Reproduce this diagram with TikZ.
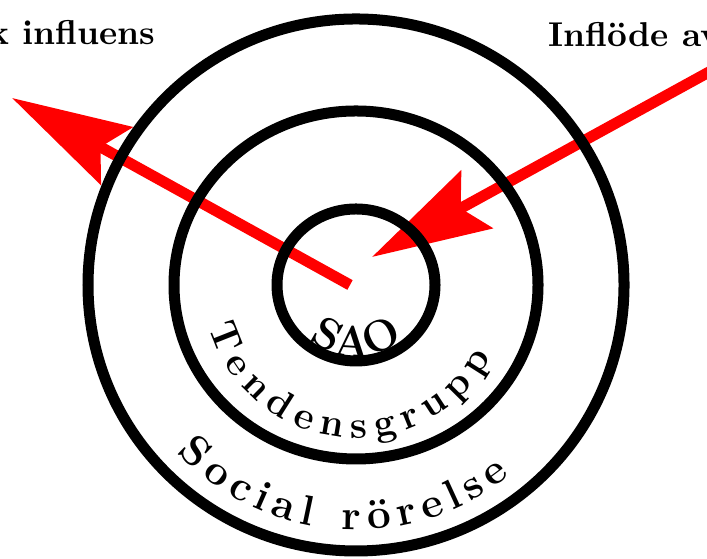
\documentclass[tikz,border=0pt]{standalone}
\usepackage{tikz}
\usetikzlibrary{arrows.meta,decorations.text}
\definecolor{flowR}{RGB}{255,0,0}

\begin{document}
\begin{tikzpicture}[x=0.01cm,y=0.01cm,>={Stealth[length=1.19cm,width=0.65cm,inset=0.18cm]},
 ring/.style={line width=0.11cm},
 flow/.style={->,flowR,line width=0.11cm},
 title/.style={font=\fontsize{9.8}{12}\selectfont\bfseries,inner sep=0pt}]
\useasboundingbox (0,0) rectangle (707,559);
\coordinate (mid) at (356,274);
\coordinate (core) at (350,274);
\coordinate (outTip) at (12,461);
\coordinate (inSrc) at (720,493);
\coordinate (inTip) at (372,302);
\node[title,anchor=base east] (outTitle) at (156,514) {k influens};
\node[title,anchor=base west] (inTitle) at (548,512) {Inflöde av};
% flows in and out of the core
\draw[flow] (core) -- (outTip);
\draw[flow] (inSrc) -- (inTip);
\foreach \rx/\ry in {79/76,182/174,268/266} { \draw[ring] (mid) ellipse [x radius=\rx, y radius=\ry]; }
% ring labels
\path[decorate,decoration={text along path,text align=center,
  text={|\fontsize{12.5}{14}\selectfont\bfseries|SAO}}]
  ([shift={(226:72)}]mid) arc[start angle=226,end angle=314,radius=72];
\path[decorate,decoration={text along path,text align={fit to path},
  text={|\fontsize{11}{13}\selectfont\bfseries|Tendensgrupp}}]
  ([shift={(196:153)}]mid) arc[start angle=196,end angle=332,radius=153];
\path[decorate,decoration={text along path,text align={fit to path},
  text={|\fontsize{12}{14}\selectfont\bfseries|Social rörelse}}]
  ([shift={(223:245)}]mid) arc[start angle=223,end angle=309,radius=245];
\end{tikzpicture}
\end{document}
